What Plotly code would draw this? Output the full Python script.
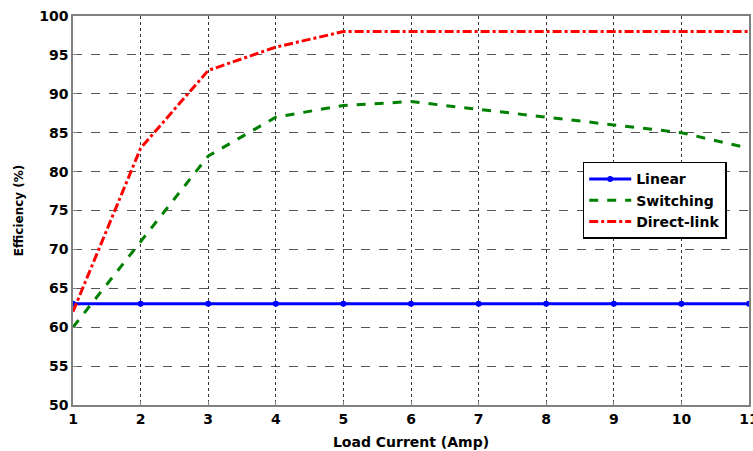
import plotly.graph_objects as go

load_current = [1, 2, 3, 4, 5, 6, 7, 8, 9, 10, 11]
linear = [63, 63, 63, 63, 63, 63, 63, 63, 63, 63, 63]
switching = [60, 71, 82, 87, 88.5, 89, 88, 87, 86, 85, 83]
direct_link = [62, 83, 93, 96, 98, 98, 98, 98, 98, 98, 98]

x_ticks = list(range(1, 12))
y_ticks = list(range(50, 101, 5))

fig = go.Figure()
fig.add_trace(go.Scatter(x=load_current, y=linear, name="Linear", mode="lines+markers",
                         line=dict(color="#0000FF", width=3),
                         marker=dict(color="#0000FF", size=6, symbol="circle")))
fig.add_trace(go.Scatter(x=load_current, y=switching, name="Switching", mode="lines",
                         line=dict(color="#008000", width=3, dash="dash")))
fig.add_trace(go.Scatter(x=load_current, y=direct_link, name="Direct-link", mode="lines",
                         line=dict(color="#FF0000", width=3, dash="dashdot")))

FAM = "DejaVu Sans, Arial, sans-serif"
tick_font = dict(family=FAM, size=14, color="black", weight="bold")

fig.update_layout(
    width=753, height=451,
    margin=dict(l=73, r=4, t=16, b=46, autoexpand=False),
    paper_bgcolor="white", plot_bgcolor="white",
    font=tick_font,
    legend=dict(x=0.754, y=0.625, xanchor="left", yanchor="top",
                bgcolor="white", bordercolor="black", borderwidth=1.5,
                font=dict(family=FAM, size=14, color="black", weight="bold"),
                tracegroupgap=0, itemwidth=42),
    xaxis=dict(range=[1, 11], tickvals=x_ticks, ticktext=[str(v) for v in x_ticks],
               showgrid=True, gridcolor="#333333", griddash="dot", gridwidth=1,
               showline=True, linecolor="#808080", linewidth=1.5, mirror=True,
               ticks="inside", ticklen=4, tickcolor="#808080",
               zeroline=False, automargin=False, ticklabeloverflow="allow",
               title=dict(text="Load Current (Amp)",
                          font=dict(family=FAM, size=14, color="black", weight="bold"),
                          standoff=12),
               tickfont=tick_font),
    yaxis=dict(range=[50, 100], tickvals=y_ticks,
               showgrid=True, gridcolor="#555555", griddash="dash", gridwidth=1,
               showline=True, linecolor="#808080", linewidth=1.5, mirror=True,
               ticks="inside", ticklen=4, tickcolor="#808080",
               zeroline=False, automargin=False, ticklabeloverflow="allow",
               title=dict(text="Efficiency (%)",
                          font=dict(family=FAM, size=12, color="black", weight="bold"),
                          standoff=13),
               tickfont=tick_font),
)

fig.write_html("out.html", config={"displayModeBar": False},
               post_script="document.body.style.margin='0';document.body.style.overflow='hidden';")
